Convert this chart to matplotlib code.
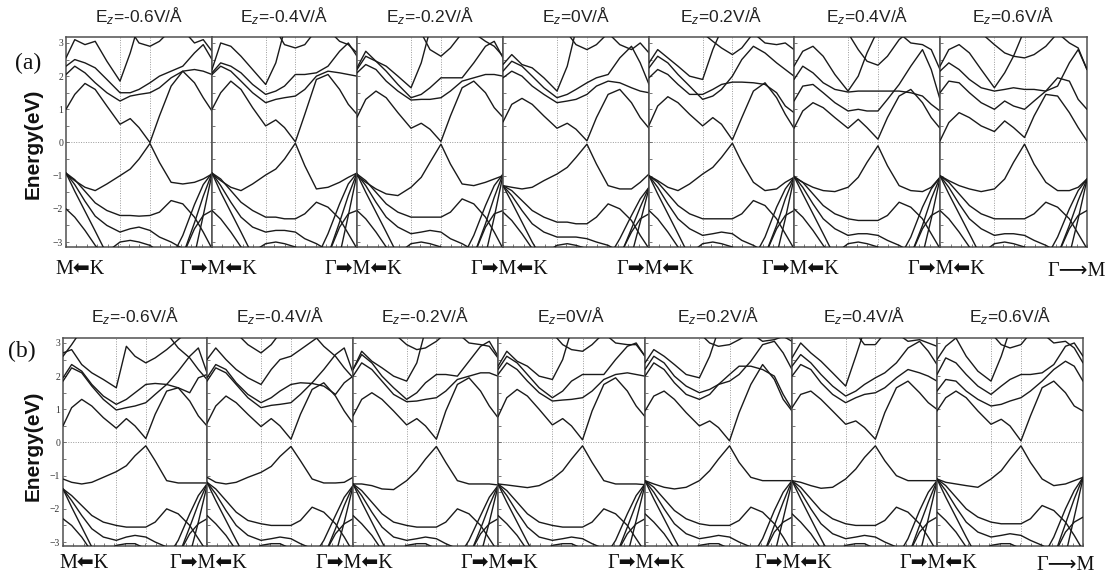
import numpy as np
import matplotlib
matplotlib.use("Agg")
import matplotlib.pyplot as plt
from matplotlib.ticker import MultipleLocator

plt.rcParams['mathtext.fontset'] = 'custom'
plt.rcParams['mathtext.rm'] = 'Liberation Sans'
plt.rcParams['mathtext.it'] = 'Liberation Sans:italic'

N = np.nan
FIELDS = ["-0.6", "-0.4", "-0.2", "0", "0.2", "0.4", "0.6"]
K_GRID = [0.00, 0.06, 0.13, 0.20, 0.28, 0.37, 0.44, 0.50, 0.575, 0.64, 0.72, 0.80, 0.88, 0.94, 1.00]
K_LINES = [0.37, 0.575]
Y_TICKS = [-3, -2, -1, 0, 1, 2, 3]
ROW_LABELS = ["(a)", "(b)"]
K_FIRST = "M\u2B05K"
K_MID = "\u0393\u27A1M\u2B05K"
K_LAST = "\u0393\u27F6M"

# ---------------- row (a) ----------------
a1 = [
    [1.00, 1.45, 1.78, 1.60, 1.10, 0.55, 0.72, 0.45, 0.00, 0.80, 1.70, 2.15, 1.80, 1.35, 0.95],
    [2.05, 2.30, 2.10, 1.80, 1.50, 1.25, 1.40, 1.45, 1.50, 1.65, 1.95, 2.15, 2.20, 2.15, 2.05],
    [2.30, 2.50, 2.40, 2.25, 1.90, 1.50, 1.50, 1.60, 1.80, 2.00, 2.15, 2.30, 2.70, 2.95, 2.50],
    [2.55, 3.10, 2.95, 3.05, 2.45, 1.85, 2.70, 3.60, *[N]*7],
    [*[N]*6, 3.40, 3.00, 2.90, 3.05, 3.40, *[N]*4],
    [*[N]*11, 3.40, 3.00, 3.10, 2.75],
    [-0.95, -1.15, -1.35, -1.45, -1.25, -1.00, -0.80, -0.50, -0.03, -0.60, -1.20, -1.25, -1.20, -1.10, -0.95],
    [-0.92, -1.12, -1.47, -1.82, -2.05, -2.20, -2.20, -2.22, -2.20, -2.10, -1.75, -1.85, -2.25, -2.70, -3.20],
    [-0.92, -1.27, -1.77, -2.22, -2.50, -2.70, -2.60, -2.55, -2.65, -2.85, -3.00, -3.20, -3.50, N, N],
    [-0.92, -1.47, -2.07, -2.67, -3.37, *[N]*10],
    [-2.00, -2.25, -2.65, -3.10, -3.50, *[N]*10],
    [*[N]*10, -3.50, -2.80, -1.87, -1.27, -0.92],
    [*[N]*11, -3.40, -2.42, -1.62, -0.92],
    [*[N]*12, -3.40, -2.20, -0.95],
    [*[N]*11, -3.40, -2.60, -2.20, -2.05],
    [*[N]*4, -3.30, -3.00, -2.95, -3.00, -3.10, -3.30, *[N]*5],
]
a2 = [
    [1.00, 1.50, 1.85, 1.60, 1.05, 0.50, 0.68, 0.45, 0.02, 0.85, 1.90, 2.05, 1.60, 1.15, 0.85],
    [2.05, 2.30, 2.15, 1.85, 1.50, 1.20, 1.30, 1.35, 1.40, 1.60, 2.00, 2.15, 2.10, 2.05, 2.00],
    [2.10, 2.40, 2.30, 2.10, 1.75, 1.45, 1.55, 1.70, 2.05, 2.05, 2.10, 2.30, 2.75, 3.00, 2.60],
    [2.20, 3.00, 2.90, 2.60, 2.20, 1.75, 2.40, 3.40, *[N]*7],
    [*[N]*6, 3.40, 2.95, 2.85, 2.95, 3.40, *[N]*4],
    [*[N]*11, 3.40, 3.05, 2.95, 2.70],
    [-0.95, -1.15, -1.35, -1.45, -1.25, -0.98, -0.80, -0.50, -0.02, -0.70, -1.40, -1.35, -1.20, -1.05, -0.92],
    [-0.92, -1.10, -1.45, -1.80, -2.05, -2.25, -2.25, -2.30, -2.30, -2.15, -1.80, -1.95, -2.30, -2.75, -3.20],
    [-0.92, -1.30, -1.80, -2.25, -2.55, -2.70, -2.65, -2.65, -2.70, -2.90, -3.05, -3.25, -3.50, N, N],
    [-0.92, -1.50, -2.10, -2.70, -3.40, *[N]*10],
    [-2.05, -2.30, -2.70, -3.15, -3.50, *[N]*10],
    [*[N]*10, -3.50, -2.75, -1.85, -1.25, -0.92],
    [*[N]*11, -3.40, -2.40, -1.60, -0.92],
    [*[N]*12, -3.40, -2.20, -0.95],
    [*[N]*11, -3.40, -2.55, -2.15, -2.05],
    [*[N]*4, -3.30, -3.05, -3.00, -3.05, -3.15, -3.30, *[N]*5],
]
a3 = [
    [0.76, 1.30, 1.55, 1.35, 0.90, 0.43, 0.58, 0.40, 0.03, 0.80, 1.65, 1.85, 1.50, 1.05, 0.76],
    [2.10, 2.35, 2.20, 1.85, 1.55, 1.28, 1.30, 1.30, 1.35, 1.55, 1.85, 1.95, 2.05, 2.05, 2.00],
    [2.20, 2.60, 2.45, 2.15, 1.75, 1.35, 1.45, 1.65, 1.95, 1.95, 1.95, 2.40, 2.90, 3.05, 2.55],
    [2.25, 2.75, 2.45, 2.30, 2.00, 1.65, 2.40, 3.40, *[N]*7],
    [*[N]*6, 3.30, 2.80, 2.60, 2.85, 3.30, *[N]*4],
    [*[N]*11, 3.30, 3.05, 2.90, 2.60],
    [-1.00, -1.20, -1.40, -1.55, -1.60, -1.35, -1.05, -0.60, -0.05, -0.65, -1.25, -1.30, -1.20, -1.10, -1.00],
    [-0.95, -1.15, -1.50, -1.85, -2.10, -2.25, -2.25, -2.25, -2.25, -2.10, -1.70, -1.85, -2.25, -2.70, -3.20],
    [-0.95, -1.30, -1.80, -2.25, -2.55, -2.75, -2.70, -2.65, -2.70, -2.90, -3.05, -3.25, -3.50, N, N],
    [-0.95, -1.50, -2.10, -2.70, -3.40, *[N]*10],
    [-2.05, -2.30, -2.70, -3.15, -3.50, *[N]*10],
    [*[N]*10, -3.50, -2.80, -1.90, -1.30, -0.95],
    [*[N]*11, -3.40, -2.45, -1.65, -0.95],
    [*[N]*12, -3.40, -2.25, -0.98],
    [*[N]*11, -3.40, -2.55, -2.15, -2.05],
    [*[N]*4, -3.35, -3.05, -3.00, -3.05, -3.15, -3.35, *[N]*5],
]
a4 = [
    [0.62, 1.15, 1.33, 1.15, 0.80, 0.43, 0.58, 0.40, 0.05, 0.75, 1.45, 1.60, 1.20, 0.75, 0.43],
    [1.95, 2.15, 2.00, 1.70, 1.45, 1.20, 1.25, 1.30, 1.45, 1.70, 1.85, 1.80, 1.65, 1.55, 1.50],
    [2.15, 2.45, 2.30, 2.00, 1.65, 1.35, 1.45, 1.60, 1.80, 1.95, 2.05, 2.55, 2.90, 2.40, 1.75],
    [2.35, 2.65, 2.35, 2.25, 1.95, 1.55, 2.30, 3.40, *[N]*7],
    [*[N]*6, 3.30, 2.95, 2.80, 2.95, 3.30, *[N]*4],
    [*[N]*10, 3.30, 2.95, 2.80, 3.00, 2.70],
    [-1.30, -1.35, -1.40, -1.35, -1.15, -0.95, -0.75, -0.45, -0.05, -0.65, -1.30, -1.40, -1.40, -1.20, -0.95],
    [-1.30, -1.45, -1.75, -2.05, -2.25, -2.40, -2.40, -2.45, -2.45, -2.25, -1.85, -2.00, -2.35, -2.80, -3.20],
    [-1.30, -1.60, -2.05, -2.45, -2.70, -2.85, -2.85, -2.85, -2.90, -3.00, -3.10, -3.30, -3.50, N, N],
    [-1.30, -1.80, -2.40, -3.00, -3.60, *[N]*10],
    [-2.10, -2.35, -2.75, -3.20, -3.60, *[N]*10],
    [*[N]*10, -3.50, -2.90, -2.20, -1.70, -1.35],
    [*[N]*11, -3.45, -2.60, -1.95, -1.35],
    [*[N]*12, -3.40, -2.40, -1.38],
    [*[N]*11, -3.40, -2.70, -2.30, -2.15],
    [*[N]*4, -3.35, -3.10, -3.05, -3.10, -3.20, -3.40, *[N]*5],
]
a5 = [
    [0.52, 1.10, 1.38, 1.20, 0.85, 0.50, 0.75, 0.55, 0.08, 0.75, 1.55, 1.80, 1.35, 0.85, 0.43],
    [1.95, 2.20, 2.05, 1.75, 1.45, 1.45, 1.60, 1.75, 1.82, 1.82, 1.80, 1.75, 1.50, 1.10, 0.90],
    [2.25, 2.60, 2.40, 2.05, 1.70, 1.30, 1.40, 1.60, 2.00, 2.50, 2.90, 2.70, 2.40, 2.20, 2.00],
    [2.40, 2.80, 2.55, 2.30, 2.00, 1.90, 2.80, 3.40, *[N]*7],
    [*[N]*5, 3.30, 3.05, 2.85, 2.65, 2.85, 3.30, *[N]*4],
    [*[N]*10, 3.30, 3.00, 2.95, 3.00, 2.80],
    [-1.00, -1.15, -1.35, -1.45, -1.25, -0.95, -0.75, -0.45, -0.02, -0.60, -1.20, -1.45, -1.40, -1.20, -1.05],
    [-1.00, -1.20, -1.55, -1.90, -2.15, -2.30, -2.30, -2.30, -2.30, -2.15, -1.75, -1.90, -2.30, -2.75, -3.20],
    [-1.00, -1.35, -1.85, -2.30, -2.60, -2.80, -2.75, -2.70, -2.75, -2.95, -3.10, -3.30, -3.50, N, N],
    [-1.00, -1.55, -2.15, -2.75, -3.45, *[N]*10],
    [-2.05, -2.30, -2.70, -3.15, -3.50, *[N]*10],
    [*[N]*10, -3.50, -2.85, -1.95, -1.40, -1.05],
    [*[N]*11, -3.40, -2.50, -1.70, -1.05],
    [*[N]*12, -3.40, -2.30, -1.08],
    [*[N]*11, -3.40, -2.60, -2.20, -2.05],
    [*[N]*4, -3.35, -3.05, -3.00, -3.05, -3.15, -3.35, *[N]*5],
]
a6 = [
    [0.43, 0.95, 1.20, 1.05, 0.75, 0.43, 0.70, 0.45, 0.10, 0.75, 1.40, 1.60, 1.20, 0.75, 0.43],
    [1.25, 1.70, 1.75, 1.50, 1.20, 0.95, 1.00, 0.95, 0.95, 1.30, 1.75, 2.30, 2.80, 2.20, 1.30],
    [1.90, 2.30, 2.10, 1.80, 1.60, 1.52, 1.55, 1.55, 1.55, 1.55, 1.55, 1.50, 1.40, 1.15, 0.95],
    [2.30, 2.75, 2.90, 2.60, 2.05, 1.55, 2.00, 2.70, 3.40, *[N]*6],
    [*[N]*5, 3.30, 2.80, 2.45, 2.33, 2.60, 3.10, 3.40, *[N]*3],
    [*[N]*10, 3.30, 3.00, 2.95, 2.80, 2.20],
    [-1.05, -1.20, -1.35, -1.45, -1.48, -1.35, -1.05, -0.60, -0.10, -0.70, -1.30, -1.45, -1.48, -1.35, -1.05],
    [-1.02, -1.20, -1.55, -1.90, -2.15, -2.30, -2.35, -2.35, -2.35, -2.20, -1.80, -1.95, -2.30, -2.75, -3.20],
    [-1.02, -1.35, -1.85, -2.30, -2.60, -2.80, -2.75, -2.75, -2.80, -2.95, -3.10, -3.30, -3.50, N, N],
    [-1.02, -1.55, -2.15, -2.75, -3.45, *[N]*10],
    [-2.00, -2.25, -2.65, -3.10, -3.50, *[N]*10],
    [*[N]*10, -3.50, -2.85, -1.95, -1.40, -1.05],
    [*[N]*11, -3.40, -2.50, -1.70, -1.05],
    [*[N]*12, -3.40, -2.30, -1.08],
    [*[N]*11, -3.40, -2.60, -2.20, -2.05],
    [*[N]*4, -3.35, -3.05, -3.00, -3.05, -3.15, -3.35, *[N]*5],
]
a7 = [
    [0.05, 0.60, 0.90, 0.75, 0.50, 0.33, 0.65, 0.45, 0.15, 0.80, 1.45, 1.40, 0.90, 0.45, 0.05],
    [1.50, 1.85, 1.80, 1.50, 1.20, 1.00, 1.25, 1.10, 1.00, 1.25, 1.55, 1.95, 1.85, 1.30, 1.00],
    [2.15, 2.40, 2.20, 1.90, 1.65, 1.55, 1.60, 1.65, 1.60, 1.60, 1.55, 1.70, 2.40, 2.80, 2.20],
    [2.30, 2.80, 2.95, 2.70, 2.20, 1.65, 2.10, 2.60, 3.40, *[N]*6],
    [*[N]*4, 3.30, 2.95, 2.70, 2.60, 2.55, 2.65, 2.90, 3.30, *[N]*3],
    [*[N]*11, 3.30, 3.00, 2.85, 2.20],
    [-1.00, -1.15, -1.30, -1.40, -1.48, -1.40, -1.10, -0.60, -0.05, -0.65, -1.20, -1.45, -1.45, -1.35, -1.10],
    [-1.00, -1.20, -1.55, -1.90, -2.15, -2.30, -2.30, -2.30, -2.30, -2.15, -1.80, -1.95, -2.30, -2.75, -3.20],
    [-1.00, -1.35, -1.85, -2.30, -2.60, -2.80, -2.75, -2.75, -2.80, -2.95, -3.10, -3.30, -3.50, N, N],
    [-1.00, -1.55, -2.15, -2.75, -3.45, *[N]*10],
    [-2.05, -2.30, -2.70, -3.15, -3.50, *[N]*10],
    [*[N]*10, -3.50, -2.85, -2.00, -1.45, -1.10],
    [*[N]*11, -3.40, -2.50, -1.75, -1.10],
    [*[N]*12, -3.40, -2.30, -1.12],
    [*[N]*11, -3.40, -2.60, -2.20, -2.05],
    [*[N]*4, -3.35, -3.05, -3.00, -3.05, -3.15, -3.35, *[N]*5],
]

# ---------------- row (b) ----------------
b1 = [
    [0.50, 1.05, 1.30, 1.10, 0.75, 0.43, 0.72, 0.50, 0.12, 0.85, 1.55, 1.65, 1.25, 0.80, 0.50],
    [1.85, 2.25, 2.10, 1.70, 1.30, 0.98, 1.05, 1.10, 1.20, 1.45, 1.75, 2.15, 2.60, 2.85, 2.10],
    [1.95, 2.35, 2.15, 1.75, 1.40, 1.15, 1.30, 1.50, 1.75, 1.78, 1.75, 1.65, 1.50, 1.95, 2.05],
    [2.70, 2.80, 2.35, 2.10, 1.90, 1.65, 2.90, 2.60, 2.40, 2.55, 2.80, 3.10, 3.40, N, N],
    [2.60, 2.95, 3.40, *[N]*12],
    [*[N]*10, 3.30, 2.85, 2.55, 2.20, 1.90],
    [-1.10, -1.20, -1.25, -1.20, -1.05, -0.88, -0.70, -0.40, -0.10, -0.55, -1.15, -1.22, -1.22, -1.22, -1.22],
    [-1.40, -1.60, -1.90, -2.20, -2.40, -2.50, -2.55, -2.55, -2.55, -2.40, -2.00, -2.15, -2.50, -2.90, -3.30],
    [-1.40, -1.75, -2.20, -2.60, -2.85, -2.95, -2.85, -2.80, -2.85, -3.00, -3.15, -3.35, N, N, N],
    [-1.40, -1.95, -2.55, -3.15, -3.70, *[N]*10],
    [-2.30, -2.50, -2.85, -3.30, -3.70, *[N]*10],
    [*[N]*10, -3.50, -2.95, -2.15, -1.60, -1.25],
    [*[N]*11, -3.45, -2.55, -1.85, -1.25],
    [*[N]*12, -3.40, -2.40, -1.30],
    [*[N]*11, -3.40, -2.75, -2.45, -2.30],
    [*[N]*4, -3.35, -3.10, -3.05, -3.05, -3.20, -3.40, *[N]*5],
]
b2 = [
    [0.58, 1.10, 1.40, 1.20, 0.85, 0.48, 0.72, 0.50, 0.10, 0.85, 1.60, 1.80, 1.40, 0.95, 0.58],
    [1.85, 2.25, 2.10, 1.75, 1.35, 1.05, 1.12, 1.15, 1.20, 1.45, 1.80, 2.20, 2.65, 2.85, 2.10],
    [1.95, 2.35, 2.20, 1.80, 1.45, 1.20, 1.35, 1.55, 1.75, 1.80, 1.78, 1.70, 1.45, 1.80, 2.00],
    [2.50, 2.85, 2.50, 2.20, 1.95, 1.75, 2.20, 2.50, 2.60, 2.80, 3.05, 3.30, N, N, N],
    [N, N, N, 3.30, 2.95, 2.70, 2.95, 3.30, *[N]*7],
    [*[N]*10, 3.30, 2.90, 2.60, 2.25, 1.95],
    [-1.05, -1.20, -1.25, -1.20, -1.05, -0.90, -0.72, -0.42, -0.12, -0.55, -1.10, -1.22, -1.22, -1.20, -1.05],
    [-1.20, -1.40, -1.75, -2.10, -2.35, -2.45, -2.50, -2.50, -2.50, -2.35, -1.95, -2.10, -2.45, -2.85, -3.30],
    [-1.20, -1.55, -2.05, -2.50, -2.80, -2.95, -2.90, -2.85, -2.90, -3.05, -3.20, -3.40, N, N, N],
    [-1.20, -1.75, -2.35, -2.95, -3.60, *[N]*10],
    [-2.20, -2.45, -2.80, -3.25, -3.70, *[N]*10],
    [*[N]*10, -3.50, -2.95, -2.20, -1.65, -1.30],
    [*[N]*11, -3.45, -2.60, -1.90, -1.30],
    [*[N]*12, -3.40, -2.40, -1.32],
    [*[N]*11, -3.40, -2.75, -2.45, -2.30],
    [*[N]*4, -3.35, -3.10, -3.05, -3.05, -3.20, -3.40, *[N]*5],
]
b3 = [
    [0.80, 1.30, 1.50, 1.30, 0.95, 0.53, 0.72, 0.50, 0.10, 0.95, 1.75, 1.95, 1.55, 1.10, 0.75],
    [2.00, 2.40, 2.20, 1.85, 1.45, 1.23, 1.25, 1.30, 1.35, 1.55, 1.90, 2.00, 2.10, 2.10, 2.00],
    [2.20, 2.65, 2.40, 2.00, 1.65, 1.30, 1.50, 1.80, 2.05, 2.05, 2.00, 2.45, 2.90, 3.05, 2.60],
    [2.20, 2.75, 2.45, 2.25, 2.00, 1.85, 2.40, 3.40, *[N]*7],
    [*[N]*4, 3.30, 2.95, 2.80, 2.85, 3.05, 3.30, *[N]*5],
    [*[N]*10, 3.30, 3.00, 2.95, 2.90, 2.55],
    [-1.25, -1.25, -1.30, -1.40, -1.42, -1.15, -0.85, -0.50, -0.12, -0.60, -1.15, -1.25, -1.25, -1.25, -1.28],
    [-1.25, -1.45, -1.80, -2.15, -2.40, -2.50, -2.55, -2.55, -2.55, -2.40, -2.00, -2.15, -2.50, -2.90, -3.30],
    [-1.25, -1.60, -2.10, -2.55, -2.85, -2.95, -2.90, -2.85, -2.90, -3.05, -3.20, -3.40, N, N, N],
    [-1.25, -1.80, -2.40, -3.00, -3.65, *[N]*10],
    [-2.20, -2.45, -2.80, -3.25, -3.70, *[N]*10],
    [*[N]*10, -3.50, -2.95, -2.20, -1.65, -1.30],
    [*[N]*11, -3.45, -2.60, -1.90, -1.30],
    [*[N]*12, -3.40, -2.40, -1.32],
    [*[N]*11, -3.40, -2.75, -2.45, -2.30],
    [*[N]*4, -3.35, -3.10, -3.05, -3.05, -3.20, -3.40, *[N]*5],
]
b4 = [
    [0.78, 1.35, 1.60, 1.40, 1.00, 0.53, 0.72, 0.50, 0.08, 0.95, 1.75, 1.95, 1.55, 1.10, 0.78],
    [2.05, 2.40, 2.20, 1.85, 1.50, 1.25, 1.28, 1.30, 1.35, 1.55, 1.90, 2.05, 2.10, 2.05, 2.00],
    [2.20, 2.60, 2.40, 2.05, 1.65, 1.35, 1.55, 1.85, 2.05, 2.05, 2.05, 2.50, 2.90, 3.00, 2.60],
    [2.30, 2.75, 2.45, 2.30, 2.00, 1.90, 2.50, 3.40, *[N]*7],
    [*[N]*5, 3.30, 2.95, 2.80, 2.75, 2.95, 3.30, *[N]*4],
    [*[N]*10, 3.30, 3.00, 2.95, 2.95, 2.60],
    [-1.25, -1.28, -1.32, -1.36, -1.30, -1.10, -0.85, -0.50, -0.10, -0.60, -1.15, -1.25, -1.25, -1.25, -1.27],
    [-1.25, -1.45, -1.80, -2.15, -2.40, -2.50, -2.55, -2.55, -2.55, -2.40, -2.00, -2.15, -2.50, -2.90, -3.30],
    [-1.25, -1.60, -2.10, -2.55, -2.85, -2.95, -2.90, -2.85, -2.90, -3.05, -3.20, -3.40, N, N, N],
    [-1.25, -1.80, -2.40, -3.00, -3.65, *[N]*10],
    [-2.20, -2.45, -2.80, -3.25, -3.70, *[N]*10],
    [*[N]*10, -3.50, -2.95, -2.15, -1.60, -1.25],
    [*[N]*11, -3.45, -2.55, -1.85, -1.25],
    [*[N]*12, -3.40, -2.35, -1.28],
    [*[N]*11, -3.40, -2.75, -2.45, -2.30],
    [*[N]*4, -3.35, -3.10, -3.05, -3.05, -3.20, -3.40, *[N]*5],
]
b5 = [
    [0.95, 1.40, 1.55, 1.30, 0.90, 0.50, 0.65, 0.45, 0.05, 0.90, 1.75, 2.35, 1.90, 1.30, 0.95],
    [2.00, 2.40, 2.20, 1.80, 1.45, 1.30, 1.45, 1.75, 2.05, 2.30, 2.30, 2.20, 2.00, 1.45, 1.00],
    [2.20, 2.60, 2.40, 2.00, 1.70, 1.50, 1.60, 1.75, 1.85, 2.05, 2.45, 2.95, 3.05, 2.70, 2.20],
    [2.40, 2.80, 2.60, 2.35, 2.05, 1.95, 2.60, 3.40, *[N]*7],
    [*[N]*5, 3.30, 3.00, 2.90, 2.95, 3.10, 3.30, *[N]*4],
    [*[N]*10, 3.30, 3.05, 3.10, 3.20, 3.05],
    [-1.15, -1.25, -1.35, -1.40, -1.35, -1.15, -0.85, -0.50, -0.10, -0.60, -1.05, -1.15, -1.15, -1.15, -1.15],
    [-1.15, -1.35, -1.70, -2.05, -2.30, -2.45, -2.50, -2.50, -2.50, -2.35, -1.95, -2.10, -2.45, -2.85, -3.30],
    [-1.15, -1.50, -2.00, -2.45, -2.75, -2.90, -2.85, -2.80, -2.85, -3.00, -3.15, -3.35, N, N, N],
    [-1.15, -1.70, -2.30, -2.90, -3.55, *[N]*10],
    [-2.15, -2.40, -2.75, -3.20, -3.65, *[N]*10],
    [*[N]*10, -3.50, -2.90, -2.05, -1.50, -1.15],
    [*[N]*11, -3.45, -2.50, -1.80, -1.15],
    [*[N]*12, -3.40, -2.30, -1.18],
    [*[N]*11, -3.40, -2.70, -2.40, -2.25],
    [*[N]*4, -3.35, -3.10, -3.05, -3.05, -3.20, -3.40, *[N]*5],
]
b6 = [
    [1.05, 1.45, 1.55, 1.30, 0.95, 0.55, 0.65, 0.45, 0.10, 0.90, 1.65, 1.85, 1.50, 1.20, 1.00],
    [2.00, 2.35, 2.20, 1.80, 1.45, 1.20, 1.35, 1.45, 1.50, 1.65, 1.95, 2.20, 2.10, 2.00, 1.85],
    [2.30, 2.65, 2.40, 2.05, 1.70, 1.40, 1.55, 1.75, 1.95, 2.10, 2.40, 2.85, 3.05, 2.75, 2.35],
    [2.55, 3.00, 2.70, 2.45, 2.10, 1.70, 2.60, 3.40, *[N]*7],
    [*[N]*6, 3.30, 2.95, 2.95, 3.30, *[N]*5],
    [*[N]*10, 3.30, 3.05, 3.10, 3.00, 2.90],
    [-1.15, -1.20, -1.30, -1.38, -1.35, -1.10, -0.80, -0.45, -0.10, -0.55, -1.00, -1.15, -1.15, -1.15, -1.15],
    [-1.15, -1.35, -1.70, -2.05, -2.30, -2.45, -2.50, -2.50, -2.50, -2.35, -1.95, -2.10, -2.45, -2.85, -3.30],
    [-1.15, -1.50, -2.00, -2.45, -2.75, -2.90, -2.85, -2.80, -2.85, -3.00, -3.15, -3.35, N, N, N],
    [-1.15, -1.70, -2.30, -2.90, -3.55, *[N]*10],
    [-2.15, -2.40, -2.75, -3.20, -3.65, *[N]*10],
    [*[N]*10, -3.50, -2.90, -2.05, -1.50, -1.15],
    [*[N]*11, -3.45, -2.50, -1.80, -1.15],
    [*[N]*12, -3.40, -2.30, -1.18],
    [*[N]*11, -3.40, -2.70, -2.40, -2.25],
    [*[N]*4, -3.35, -3.10, -3.05, -3.05, -3.20, -3.40, *[N]*5],
]
b7 = [
    [0.95, 1.35, 1.55, 1.35, 0.95, 0.55, 0.70, 0.50, 0.05, 0.80, 1.65, 1.85, 1.50, 1.10, 0.95],
    [1.55, 1.90, 1.85, 1.55, 1.30, 1.10, 1.15, 1.25, 1.35, 1.55, 1.85, 2.20, 2.45, 2.30, 1.85],
    [2.05, 2.55, 2.40, 2.05, 1.70, 1.45, 1.70, 1.90, 2.05, 2.05, 2.10, 2.35, 2.90, 3.00, 2.60],
    [2.50, 2.90, 3.15, 2.60, 2.15, 1.85, 2.60, 3.40, *[N]*7],
    [*[N]*5, 3.30, 2.95, 2.85, 2.95, 3.30, *[N]*5],
    [*[N]*10, 3.30, 3.00, 3.05, 2.85, 2.40],
    [-1.10, -1.20, -1.25, -1.30, -1.35, -1.10, -0.85, -0.50, -0.10, -0.60, -1.10, -1.30, -1.25, -1.15, -1.05],
    [-1.10, -1.30, -1.65, -2.00, -2.25, -2.40, -2.45, -2.45, -2.45, -2.30, -1.90, -2.05, -2.40, -2.80, -3.25],
    [-1.10, -1.45, -1.95, -2.40, -2.70, -2.85, -2.80, -2.75, -2.80, -2.95, -3.10, -3.30, N, N, N],
    [-1.10, -1.65, -2.25, -2.85, -3.50, *[N]*10],
    [-2.10, -2.35, -2.70, -3.15, -3.60, *[N]*10],
    [*[N]*10, -3.50, -2.85, -2.00, -1.45, -1.05],
    [*[N]*11, -3.45, -2.45, -1.70, -1.05],
    [*[N]*12, -3.40, -2.25, -1.08],
    [*[N]*11, -3.40, -2.70, -2.40, -2.25],
    [*[N]*4, -3.35, -3.10, -3.05, -3.05, -3.20, -3.40, *[N]*5],
]

ROW_A = [a1, a2, a3, a4, a5, a6, a7]
ROW_B = [b1, b2, b3, b4, b5, b6, b7]

# ---------------- layout (pixels) ----------------
W, H = 1111, 587
fig = plt.figure(figsize=(W / 100, H / 100), dpi=100)
fig.patch.set_facecolor("white")

ROWS = [
    dict(data=ROW_A, edges=[66, 212, 357, 503, 649, 794, 940, 1087], y0=37, y1=247,
         ylim=(-3.15, 3.18), title_y=16, k_y=270, lab=(28, 63), ey=144,
         first_x=80, mid_dx=6, last_x=1077),
    dict(data=ROW_B, edges=[63, 207, 353, 498, 645, 792, 937, 1083], y0=338, y1=546,
         ylim=(-3.12, 3.15), title_y=316, k_y=563, lab=(22, 351), ey=446,
         first_x=84, mid_dx=1, last_x=1066),
]

serif = ["Liberation Serif", "DejaVu Sans"]

for r, row in enumerate(ROWS):
    edges = row["edges"]
    for i in range(7):
        x0, x1 = edges[i], edges[i + 1]
        ax = fig.add_axes([x0 / W, 1 - row["y1"] / H, (x1 - x0) / W, (row["y1"] - row["y0"]) / H])
        ax.set_xlim(0, 1)
        ax.set_ylim(*row["ylim"])
        for kx in K_LINES:
            ax.axvline(kx, color="#9a9a9a", lw=0.7, ls=(0, (1, 1.5)), zorder=1)
        ax.axhline(0, color="#9a9a9a", lw=0.7, ls=(0, (1, 1.5)), zorder=1)
        for band in row["data"][i]:
            ax.plot(K_GRID, band, color="#1a1a1a", lw=1.0, zorder=3,
                    solid_joinstyle="round", solid_capstyle="round")
        for s in ax.spines.values():
            s.set_color("#505050")
            s.set_linewidth(1.1)
        ax.set_yticks(Y_TICKS)
        ax.yaxis.set_minor_locator(MultipleLocator(0.5))
        ax.xaxis.set_major_locator(MultipleLocator(1 / 14))
        ax.tick_params(axis="both", which="both", direction="in", length=2.5,
                       width=0.6, colors="#606060", labelbottom=False, bottom=True,
                       top=False, right=False)
        if i == 0:
            ax.tick_params(axis="y", labelleft=True, labelsize=7, pad=2, labelcolor="#333333")
            for t in ax.get_yticklabels():
                t.set_family("Liberation Serif")
        else:
            ax.tick_params(axis="y", labelleft=False)
        fig.text((x0 + x1) / 2 / W, 1 - row["title_y"] / H,
                 r"E$_{z}$=" + FIELDS[i] + "V/Å", ha="center", va="center",
                 fontsize=12.5, family="Liberation Sans", color="#222222")
    # k-path labels
    fig.text(row["first_x"] / W, 1 - row["k_y"] / H, K_FIRST, ha="center", va="center",
             fontsize=14.5, family=serif, color="#111111")
    for b in edges[1:-1]:
        fig.text((b + row["mid_dx"]) / W, 1 - row["k_y"] / H, K_MID, ha="center", va="center",
                 fontsize=14.5, family=serif, color="#111111")
    fig.text(row["last_x"] / W, 1 - (row["k_y"] + 2) / H, K_LAST, ha="center", va="center",
             fontsize=14.5, family=serif, color="#111111")
    fig.text(row["lab"][0] / W, 1 - row["lab"][1] / H, ROW_LABELS[r], ha="center", va="center",
             fontsize=17, family="Liberation Serif", color="#111111")
    fig.text(33 / W, 1 - row["ey"] / H, "Energy(eV)", rotation=90, ha="center", va="center",
             fontsize=15, fontweight="bold", family="Liberation Sans", color="#111111")

fig.savefig("out.png", dpi=100, facecolor="white")
